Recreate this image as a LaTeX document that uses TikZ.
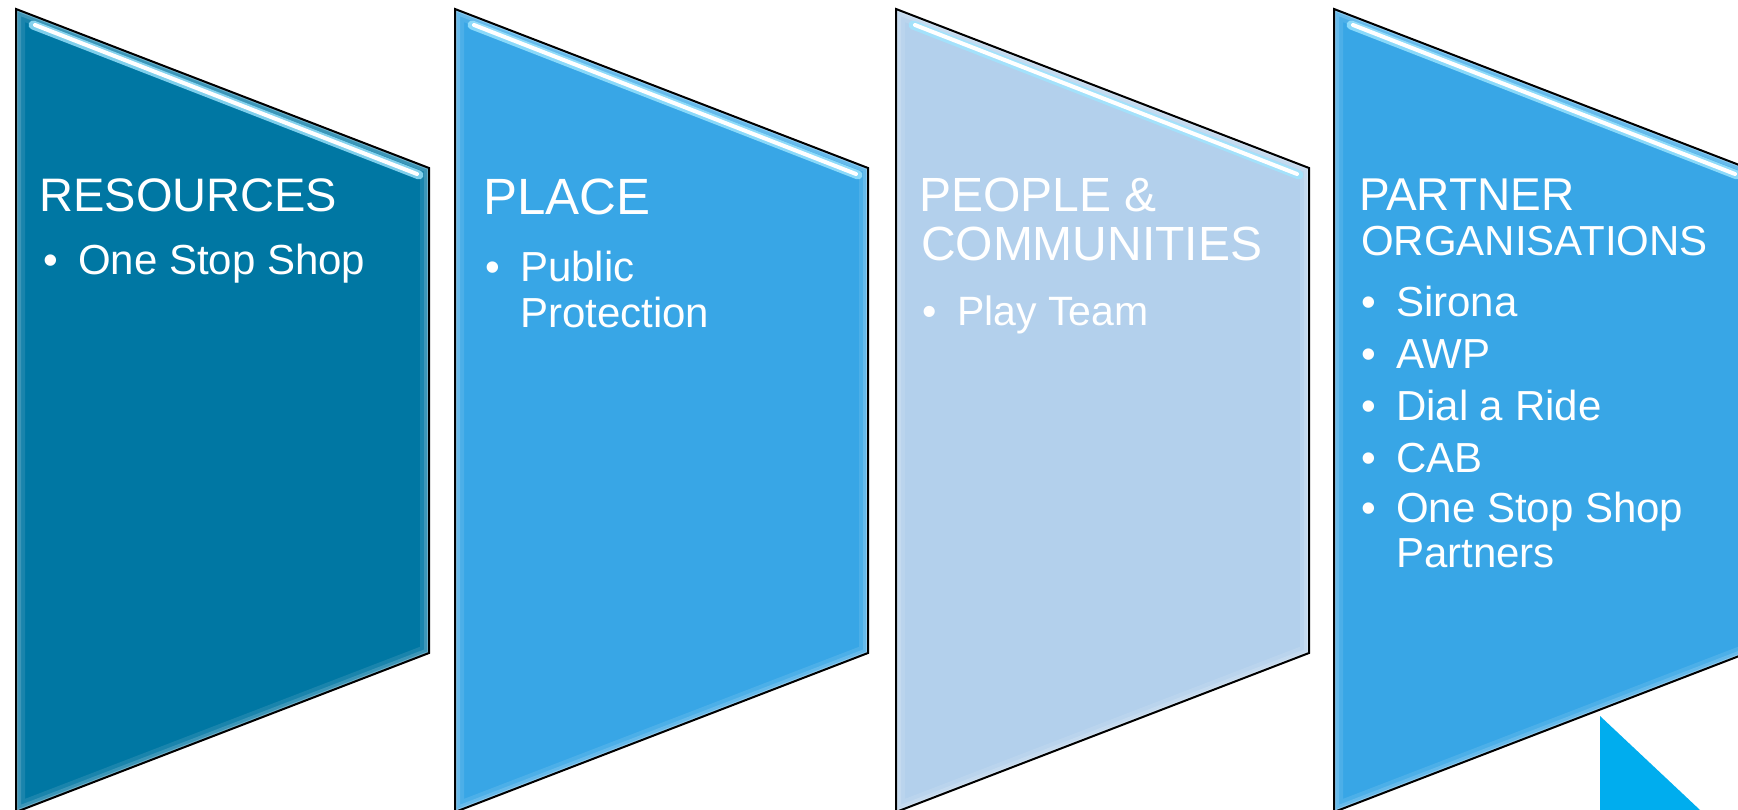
\documentclass[tikz,border=0pt]{standalone}
\usepackage{fontspec}
\setmainfont{Liberation Sans}
\definecolor{cA}{HTML}{0077A3}
\definecolor{cB}{HTML}{38A6E6}
\definecolor{cC}{HTML}{B3D0EC}
\definecolor{cT}{HTML}{00ADEE}
\definecolor{glow}{HTML}{9FE6FF}
\tikzset{
  ttl/.style={anchor=base west, inner sep=0pt, outer sep=0pt, text=white, font=\fontsize{#1}{#1}\selectfont},
  itm/.style={anchor=base west, inner sep=0pt, outer sep=0pt, text=white, font=\fontsize{#1}{#1}\selectfont},
  edge/.style={draw=black, line width=2, line join=miter},
}
\newcommand\panelshape{(0,9) -- (413,168) -- (413,653) -- (0,812) -- cycle}
\newcommand\panel[2]{%
  \begin{scope}[shift={(#1,0)}]
    \fill[#2] \panelshape;
    \begin{scope}
      \clip \panelshape;
      \draw[white, opacity=0.10, line width=18] \panelshape;
      \draw[white, opacity=0.15, line width=10] \panelshape;
      \draw[white, opacity=0.25, line width=4] \panelshape;
    \end{scope}
    \draw[glow, opacity=0.8, line width=9, line cap=round] (17,25) -- (403,175);
    \draw[white, line width=4, line cap=round] (19,25) -- (401,174);
    \draw[edge] \panelshape;
  \end{scope}}
\begin{document}
\begin{tikzpicture}[x=1pt,y=-1pt]
  \useasboundingbox (0,0) rectangle (1738,810);
  \clip (0,0) rectangle (1738,810);
  \fill[white] (0,0) rectangle (1738,810);
  \panel{16}{cA}
  \panel{455}{cB}
  \panel{896}{cC}
  \panel{1334}{cB}
  \fill[cT] (1600,716) -- (1700,810) -- (1600,810) -- cycle;

  % panel 1
  \node[ttl=47] (t1) at (39.5,212) {RESOURCES};
  \node[itm=42] (b1a) at (43,275) {•};
  \node[itm=42] (i1a) at (78,275) {One Stop Shop};

  % panel 2
  \node[ttl=51] (t2) at (483,215) {PLACE};
  \node[itm=42] (b2a) at (485,282) {•};
  \node[itm=42] (i2a) at (520,282) {Public};
  \node[itm=42] (i2b) at (520,327) {Protection};

  % panel 3
  \node[ttl=48] (t3a) at (919,212) {PEOPLE \&};
  \node[ttl=48] (t3b) at (921,261) {COMMUNITIES};
  \node[itm=41] (b3a) at (922,326) {•};
  \node[itm=41] (i3a) at (957,326) {Play Team};

  % panel 4
  \node[ttl=46] (t4a) at (1359,211) {PARTNER};
  \node[ttl=42] (t4b) at (1361,256) {ORGANISATIONS};
  \node[itm=42] (b4a) at (1361,317) {•};
  \node[itm=42] (i4a) at (1396,317) {Sirona};
  \node[itm=42] (b4b) at (1361,368) {•};
  \node[itm=42] (i4b) at (1396,368) {AWP};
  \node[itm=42] (b4c) at (1361,420) {•};
  \node[itm=42] (i4c) at (1396,420) {Dial a Ride};
  \node[itm=42] (b4d) at (1361,472) {•};
  \node[itm=42] (i4d) at (1396,472) {CAB};
  \node[itm=42] (b4e) at (1361,522) {•};
  \node[itm=42] (i4e) at (1396,522) {One Stop Shop};
  \node[itm=42] (i4f) at (1396,567) {Partners};
\end{tikzpicture}
\end{document}
